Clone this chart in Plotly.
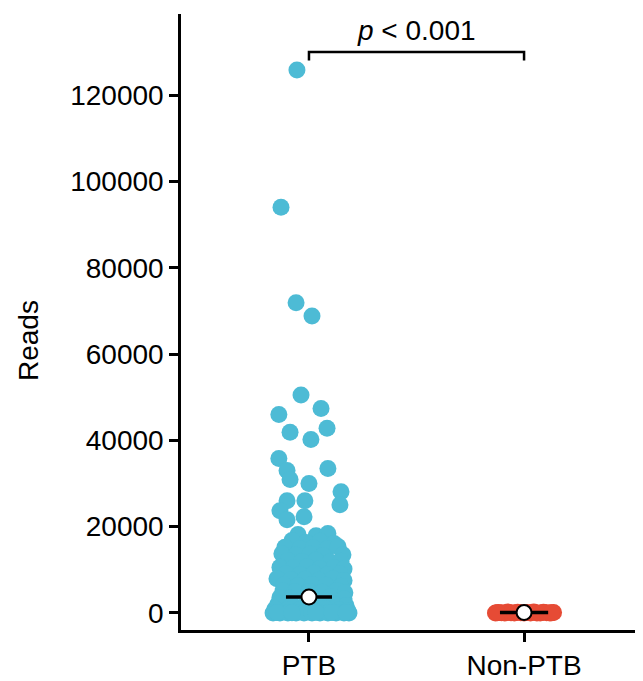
import plotly.graph_objects as go

categories = ["PTB", "Non-PTB"]

ptb_reads = [
    125800, 94000, 71900, 68800, 50500, 46000, 47400, 41900, 42800, 40200,
    35800, 33000, 30900, 33500, 30000, 28100, 25100, 26000, 26000, 23700,
    21600, 22300,
    18200, 17900, 18400,
    16800, 16300, 16600, 16100,
    15200, 14900, 15100, 14800, 15400,
    13700, 13400, 13600, 13300, 13500,
    12100, 11900, 12200, 11800, 12000,
    10600, 10400, 10700, 10300, 10500, 10200,
    9100, 8900, 9200, 8800, 9000,
    7900, 7700, 7800, 7600, 7900, 7500,
    6500, 6300, 6600, 6400, 6200,
    5100, 4900, 5000, 4800, 5200, 4700,
    3600, 3400, 3700, 3300,
    2100, 1900, 2200, 1800, 2000, 1700,
    900, 700, 800, 600, 900, 700, 500,
    0, 0, 0, 0, 0, 0, 0, 0, 0, 0, 0,
    100, 50, 150, 80, 120,
]
ptb_jitter = [
    -0.056, -0.130, -0.060, 0.014, -0.037, -0.140, 0.056, -0.088, 0.084, 0.009,
    -0.140, -0.102, -0.088, 0.088, 0.000, 0.149, 0.144, -0.102, -0.019, -0.135,
    -0.102, -0.023,
    -0.051, 0.033, 0.088,
    -0.079, -0.014, 0.051, 0.116,
    -0.112, -0.042, 0.019, 0.084, 0.135,
    -0.126, -0.060, 0.005, 0.065, 0.158,
    -0.098, -0.033, 0.033, 0.098, 0.149,
    -0.135, -0.074, -0.009, 0.051, 0.116, 0.163,
    -0.107, -0.042, 0.023, 0.084, 0.144,
    -0.149, -0.084, -0.019, 0.047, 0.112, 0.163,
    -0.116, -0.051, 0.014, 0.079, 0.149,
    -0.121, -0.065, 0.000, 0.060, 0.130, 0.167,
    -0.135, -0.088, 0.098, 0.163,
    -0.144, -0.079, -0.014, 0.051, 0.116, 0.172,
    -0.158, -0.102, -0.042, 0.019, 0.079, 0.140, 0.181,
    -0.167, -0.135, -0.098, -0.060, -0.023, 0.014, 0.051, 0.088, 0.126, 0.163, 0.186,
    -0.149, -0.079, 0.033, 0.107, 0.172,
]

nonptb_reads = [0, 120, 40, 0, 200, 60, 0, 150, 30, 0, 90, 0, 250, 10, 0, 180, 50, 0, 100, 70, 20]
nonptb_jitter = [-0.133, -0.120, -0.105, -0.090, -0.075, -0.060, -0.045, -0.030, -0.015, 0.000,
                 0.015, 0.030, 0.045, 0.060, 0.075, 0.090, 0.105, 0.120, 0.137, -0.125, 0.128]

medians = [3700, 100]
crossbar_half = [0.107, 0.112]

y_ticks = [0, 20000, 40000, 60000, 80000, 100000, 120000]
p_label = "<i>p</i> &lt; 0.001"
bracket_y = 130000
bracket_tip = 128000

colors = ["#4DBBD5", "#E64B35"]
FONT = "Liberation Sans, Arial, sans-serif"

fig = go.Figure()

fig.add_trace(go.Scatter(
    x=[0 + j for j in ptb_jitter], y=ptb_reads, mode="markers",
    marker=dict(color=colors[0], size=17, line=dict(width=0)),
    showlegend=False, hoverinfo="y"))
fig.add_trace(go.Scatter(
    x=[1 + j for j in nonptb_jitter], y=nonptb_reads, mode="markers",
    marker=dict(color=colors[1], size=17, line=dict(width=0)),
    showlegend=False, hoverinfo="y"))

# crossbars
cx, cy = [], []
for i, (m, h) in enumerate(zip(medians, crossbar_half)):
    cx += [i - h, i + h, None]
    cy += [m, m, None]
fig.add_trace(go.Scatter(x=cx, y=cy, mode="lines",
                         line=dict(color="black", width=3.5),
                         showlegend=False, hoverinfo="skip"))
fig.add_trace(go.Scatter(x=[0, 1], y=medians, mode="markers",
                         marker=dict(color="white", size=15,
                                     line=dict(color="black", width=2)),
                         showlegend=False, hoverinfo="y"))

# significance bracket
fig.add_trace(go.Scatter(x=[0, 0, 1, 1], y=[bracket_tip, bracket_y, bracket_y, bracket_tip],
                         mode="lines", line=dict(color="black", width=2.5),
                         showlegend=False, hoverinfo="skip"))
fig.add_annotation(x=0.5, y=bracket_y, text=p_label, showarrow=False,
                   yanchor="bottom", yshift=4,
                   font=dict(family=FONT, size=28, color="black"))

# y-axis title
fig.add_annotation(xref="paper", yref="paper", x=-0.33, y=0.47, text="Reads",
                   textangle=-90, showarrow=False, xanchor="center", yanchor="middle",
                   font=dict(family=FONT, size=28, color="black"))

fig.update_xaxes(range=[-0.595, 1.553], tickvals=[0, 1], ticktext=categories,
                 showline=True, linecolor="black", linewidth=2.5,
                 ticks="outside", ticklen=9, tickwidth=2.5, tickcolor="black",
                 showgrid=False, zeroline=False,
                 tickfont=dict(family=FONT, size=28, color="black"))
fig.update_yaxes(range=[-3950, 138800], tickvals=y_ticks,
                 ticktext=[str(v) for v in y_ticks],
                 showline=True, linecolor="black", linewidth=2.5,
                 ticks="outside", ticklen=9, tickwidth=2.5, tickcolor="black",
                 showgrid=False, zeroline=False,
                 tickfont=dict(family=FONT, size=28, color="black"))

# the page body adds an 8px margin; size the figure so the plot lands where the reference has it
fig.update_layout(width=635, height=673,
                  margin=dict(l=173, r=0, t=6, b=45),
                  plot_bgcolor="white", paper_bgcolor="white",
                  font=dict(family=FONT))

fig.write_html("out.html")
